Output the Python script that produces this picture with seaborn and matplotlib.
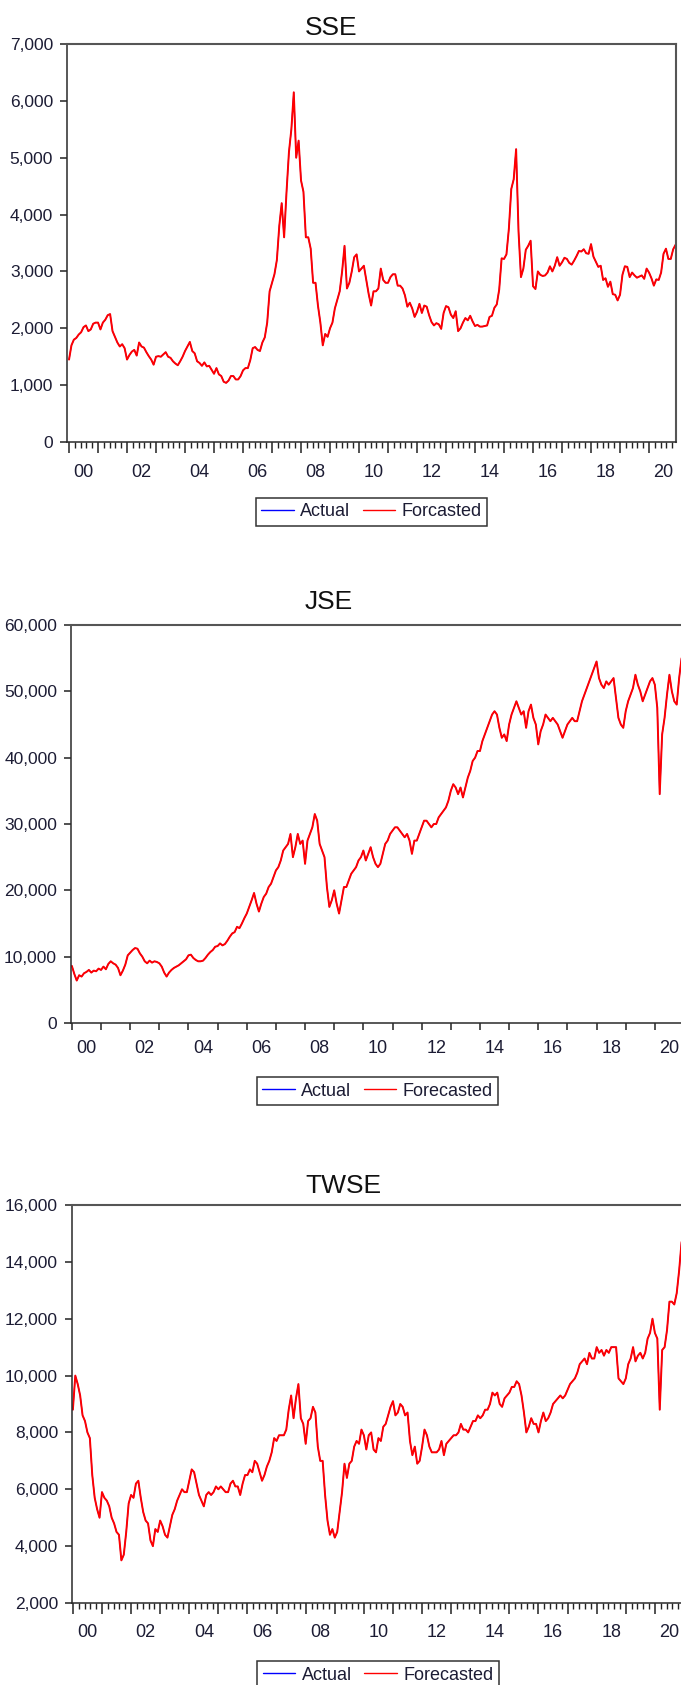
import matplotlib
matplotlib.use("Agg")
import matplotlib.pyplot as plt
from matplotlib import transforms
from matplotlib.ticker import MultipleLocator, AutoMinorLocator, FuncFormatter
import numpy as np
import pandas as pd
import seaborn as sns

# ---------------------------------------------------------------------------
# Monthly index levels, Jan 2000 .. Dec 2020 (one row per year)
# ---------------------------------------------------------------------------
sse_close = [
    1450, 1700, 1800, 1830, 1890, 1930, 2020, 2050, 1950, 1980, 2080, 2100,
    2100, 1980, 2100, 2150, 2230, 2250, 1950, 1850, 1750, 1680, 1720, 1650,
    1450, 1530, 1590, 1620, 1520, 1750, 1680, 1660, 1580, 1510, 1450, 1360,
    1500, 1510, 1500, 1540, 1580, 1500, 1480, 1420, 1380, 1350, 1420, 1500,
    1600, 1680, 1760, 1600, 1560, 1420, 1390, 1340, 1400, 1330, 1340, 1270,
    1200, 1300, 1190, 1160, 1060, 1040, 1080, 1160, 1160, 1100, 1100, 1160,
    1260, 1300, 1300, 1440, 1650, 1670, 1620, 1600, 1750, 1840, 2100, 2650,
    2800, 2950, 3200, 3800, 4200, 3600, 4400, 5100, 5500, 6150, 5000, 5300,
    4600, 4400, 3600, 3600, 3400, 2800, 2800, 2400, 2100, 1700, 1900, 1850,
    2000, 2100, 2350, 2500, 2650, 3000, 3450, 2700, 2800, 3000, 3250, 3300,
    3000, 3050, 3100, 2850, 2600, 2400, 2650, 2650, 2700, 3050, 2850, 2800,
    2800, 2900, 2950, 2950, 2750, 2750, 2700, 2580, 2380, 2450, 2350, 2200,
    2290, 2430, 2270, 2400, 2380, 2230, 2110, 2050, 2090, 2070, 1990, 2270,
    2390, 2370, 2240, 2180, 2300, 1950, 2000, 2100, 2180, 2140, 2220, 2120,
    2040, 2060, 2030, 2030, 2040, 2050, 2200, 2220, 2360, 2420, 2680, 3230,
    3220, 3300, 3750, 4450, 4620, 5150, 3700, 2900, 3050, 3380, 3450, 3540,
    2740, 2690, 3000, 2940, 2920, 2930, 2980, 3090, 3000, 3100, 3250, 3100,
    3160, 3240, 3220, 3150, 3120, 3190, 3270, 3360, 3350, 3390, 3320, 3310,
    3480, 3260, 3170, 3080, 3100, 2850, 2880, 2730, 2820, 2600, 2590, 2490,
    2590, 2940, 3090, 3080, 2900, 2980, 2930, 2890, 2910, 2930, 2870, 3050,
    2980, 2880, 2750, 2860, 2850, 2980, 3310, 3400, 3220, 3220, 3390, 3470,
]

jse_close = [
    8600, 7400, 6400, 7200, 7000, 7500, 7700, 8000, 7600, 7900, 7800, 8200,
    8000, 8500, 8100, 8900, 9300, 9000, 8800, 8300, 7200, 7900, 8800, 10200,
    10600, 11000, 11300, 11200, 10500, 10000, 9300, 9000, 9400, 9100, 9300, 9200,
    9000, 8500, 7600, 7000, 7600, 8000, 8300, 8500, 8700, 9000, 9300, 9600,
    10200, 10300, 9800, 9500, 9300, 9300, 9400, 9800, 10300, 10700, 11000, 11500,
    11600, 12000, 11700, 11900, 12400, 13000, 13500, 13700, 14500, 14300, 15000, 15800,
    16500, 17500, 18500, 19600, 18000, 16800, 18000, 19000, 19500, 20500, 21000, 22000,
    23000, 23500, 24500, 26000, 26500, 27000, 28500, 25000, 26500, 28500, 27000, 27500,
    24000, 27500, 28500, 29500, 31500, 30500, 27000, 26000, 25000, 20500, 17500, 18500,
    20000, 18000, 16500, 18500, 20500, 20500, 21500, 22500, 23000, 23500, 24500, 25000,
    26000, 24500, 25500, 26500, 25000, 24000, 23500, 24000, 25500, 27000, 27500, 28500,
    29000, 29500, 29500, 29000, 28500, 28000, 28500, 27500, 25500, 27500, 27500, 28500,
    29500, 30500, 30500, 30000, 29500, 30000, 30000, 31000, 31500, 32000, 32500, 33500,
    35000, 36000, 35500, 34500, 35500, 34000, 35500, 37000, 38000, 39500, 40000, 41000,
    41000, 42500, 43500, 44500, 45500, 46500, 47000, 46500, 44500, 43000, 43500, 42500,
    45000, 46500, 47500, 48500, 47500, 46500, 47000, 44500, 47000, 48000, 46000, 45000,
    42000, 44000, 45000, 46500, 46000, 45500, 46000, 45500, 45000, 44000, 43000, 44000,
    45000, 45500, 46000, 45500, 45500, 47000, 48500, 49500, 50500, 51500, 52500, 53500,
    54500, 52000, 51000, 50500, 51500, 51000, 51500, 52000, 49000, 46000, 45000, 44500,
    47000, 48500, 49500, 50500, 52500, 51000, 50000, 48500, 49500, 50500, 51500, 52000,
    51000, 47500, 34500, 43500, 46000, 49500, 52500, 50000, 48500, 48000, 52000, 55000,
]

twse_close = [
    8800, 10000, 9700, 9300, 8600, 8400, 8000, 7800, 6500, 5700, 5300, 5000,
    5900, 5700, 5600, 5400, 5000, 4800, 4500, 4400, 3500, 3700, 4500, 5500,
    5800, 5700, 6200, 6300, 5700, 5200, 4900, 4800, 4200, 4000, 4600, 4500,
    4900, 4700, 4400, 4300, 4700, 5100, 5300, 5600, 5800, 6000, 5900, 5900,
    6300, 6700, 6600, 6200, 5800, 5600, 5400, 5800, 5900, 5800, 5900, 6100,
    6000, 6100, 6000, 5900, 5900, 6200, 6300, 6100, 6100, 5800, 6200, 6500,
    6500, 6700, 6600, 7000, 6900, 6600, 6300, 6500, 6800, 7000, 7300, 7800,
    7700, 7900, 7900, 7900, 8100, 8800, 9300, 8500, 9200, 9700, 8500, 8300,
    7600, 8400, 8500, 8900, 8700, 7500, 7000, 7000, 5800, 4900, 4400, 4600,
    4300, 4500, 5200, 5900, 6900, 6400, 6900, 7000, 7500, 7700, 7600, 8100,
    7900, 7400, 7900, 8000, 7400, 7300, 7800, 7700, 8200, 8300, 8600, 8900,
    9100, 8600, 8700, 9000, 8900, 8600, 8700, 7700, 7200, 7500, 6900, 7000,
    7500, 8100, 7900, 7500, 7300, 7300, 7300, 7400, 7700, 7200, 7600, 7700,
    7800, 7900, 7900, 8000, 8300, 8100, 8100, 8000, 8200, 8400, 8400, 8600,
    8500, 8600, 8800, 8800, 9000, 9400, 9300, 9400, 9000, 8900, 9200, 9300,
    9400, 9600, 9600, 9800, 9700, 9300, 8700, 8000, 8200, 8500, 8300, 8300,
    8000, 8400, 8700, 8400, 8500, 8700, 9000, 9100, 9200, 9300, 9200, 9300,
    9500, 9700, 9800, 9900, 10100, 10400, 10500, 10600, 10400, 10800, 10600, 10600,
    11000, 10800, 10900, 10700, 10900, 10800, 11000, 11000, 11000, 9900, 9800, 9700,
    9900, 10400, 10600, 11000, 10500, 10700, 10800, 10600, 10800, 11300, 11500, 12000,
    11500, 11300, 8800, 10900, 11000, 11600, 12600, 12600, 12500, 12900, 13700, 14700,
]

panel_titles = ["SSE", "JSE", "TWSE"]
forecast_labels = ["Forcasted", "Forecasted", "Forecasted"]
sse_yticks = [0, 1000, 2000, 3000, 4000, 5000, 6000, 7000]
jse_yticks = [0, 10000, 20000, 30000, 40000, 50000, 60000]
twse_yticks = [2000, 4000, 6000, 8000, 10000, 12000, 14000, 16000]
label_years = list(range(2000, 2021, 2))

# ---------------------------------------------------------------------------
# Style
# ---------------------------------------------------------------------------
sns.set_style("ticks")
plt.rcParams["font.family"] = ["Liberation Sans", "DejaVu Sans"]
TEXT_COLOR = "#1c1c34"
PX = 0.72  # points per pixel at 100 dpi

W, H = 681, 1685
fig = plt.figure(figsize=(W / 100, H / 100), dpi=100)
fig.patch.set_facecolor("white")

dates = pd.date_range("2000-01-01", periods=len(sse_close), freq="MS")
t_year = dates.year + (dates.month - 1) / 12.0

thousands = FuncFormatter(lambda v, _: f"{v:,.0f}")


def draw_panel(box, xlim, title, values, yticks, fc_label, minor, major_len,
               title_gap, label_gap, legend_gap):
    left, right, top, bottom = box
    ax = fig.add_axes([left / W, 1 - bottom / H, (right - left) / W, (bottom - top) / H])
    df = pd.DataFrame({"t": t_year, "level": values})
    # actual series underneath, forecast drawn on top of it
    sns.lineplot(data=df, x="t", y="level", ax=ax, color="#0000ff", lw=0.8,
                 label="Actual")
    sns.lineplot(data=df, x="t", y="level", ax=ax, color="#ff0000", lw=1.4,
                 label=fc_label)

    ax.set_xlim(*xlim)
    ax.set_ylim(yticks[0], yticks[-1])
    ax.set_xlabel("")
    ax.set_ylabel("")
    ax.set_yticks(yticks)
    ax.yaxis.set_major_formatter(thousands)
    ax.xaxis.set_major_locator(MultipleLocator(1))
    if minor:
        ax.xaxis.set_minor_locator(AutoMinorLocator(5))
    ax.tick_params(axis="x", which="major", direction="out", length=major_len,
                   width=1.1, color="#222222", labelbottom=False)
    ax.tick_params(axis="x", which="minor", direction="out", length=4,
                   width=1.0, color="#222222")
    ax.tick_params(axis="y", which="major", direction="out", length=5,
                   width=1.1, color="#222222", pad=5, labelsize=12.5,
                   labelcolor=TEXT_COLOR)

    for side in ("left", "bottom"):
        ax.spines[side].set_color("#2a2a2a")
        ax.spines[side].set_linewidth(1.1)
    for side in ("top", "right"):
        ax.spines[side].set_color("#555555")
        ax.spines[side].set_linewidth(1.5)

    # two-digit year labels centred inside every other year
    lab_tr = transforms.offset_copy(ax.get_xaxis_transform(), fig=fig,
                                    y=-label_gap * PX, units="points")
    for yr in label_years:
        ax.text(yr + 0.5, 0, f"{yr % 100:02d}", transform=lab_tr, ha="center",
                va="baseline", fontsize=13, color=TEXT_COLOR, clip_on=False)

    # title
    ttl_tr = transforms.offset_copy(ax.transAxes, fig=fig, y=title_gap * PX,
                                    units="points")
    ax.text((305 - left) / (right - left), 1, title, transform=ttl_tr,
            ha="left", va="baseline", fontsize=19, color="#111111")

    leg = ax.legend(loc="center", bbox_to_anchor=(0.5, -legend_gap / (bottom - top)),
                    ncol=2, frameon=True, fancybox=False, edgecolor="#333333",
                    fontsize=13, handlelength=1.8, handletextpad=0.35,
                    columnspacing=0.7, borderpad=0.3, borderaxespad=0.0,
                    framealpha=1.0)
    leg.get_frame().set_linewidth(1.1)
    for line in leg.get_lines():
        line.set_linewidth(1.0)
    for txt in leg.get_texts():
        txt.set_color(TEXT_COLOR)
    return ax


draw_panel((67, 676, 44, 442), (1999.93, 2020.93), panel_titles[0], sse_close,
           sse_yticks, forecast_labels[0], True, 8, 9, 35, 70)
draw_panel((71, 684, 625, 1023), (1999.97, 2021.0), panel_titles[1], jse_close,
           jse_yticks, forecast_labels[1], False, 5, 16, 30, 68)
draw_panel((72, 684, 1205, 1603), (1999.97, 2021.0), panel_titles[2], twse_close,
           twse_yticks, forecast_labels[2], True, 8, 12, 34, 72)

fig.savefig("out.png", dpi=100, facecolor="white")
